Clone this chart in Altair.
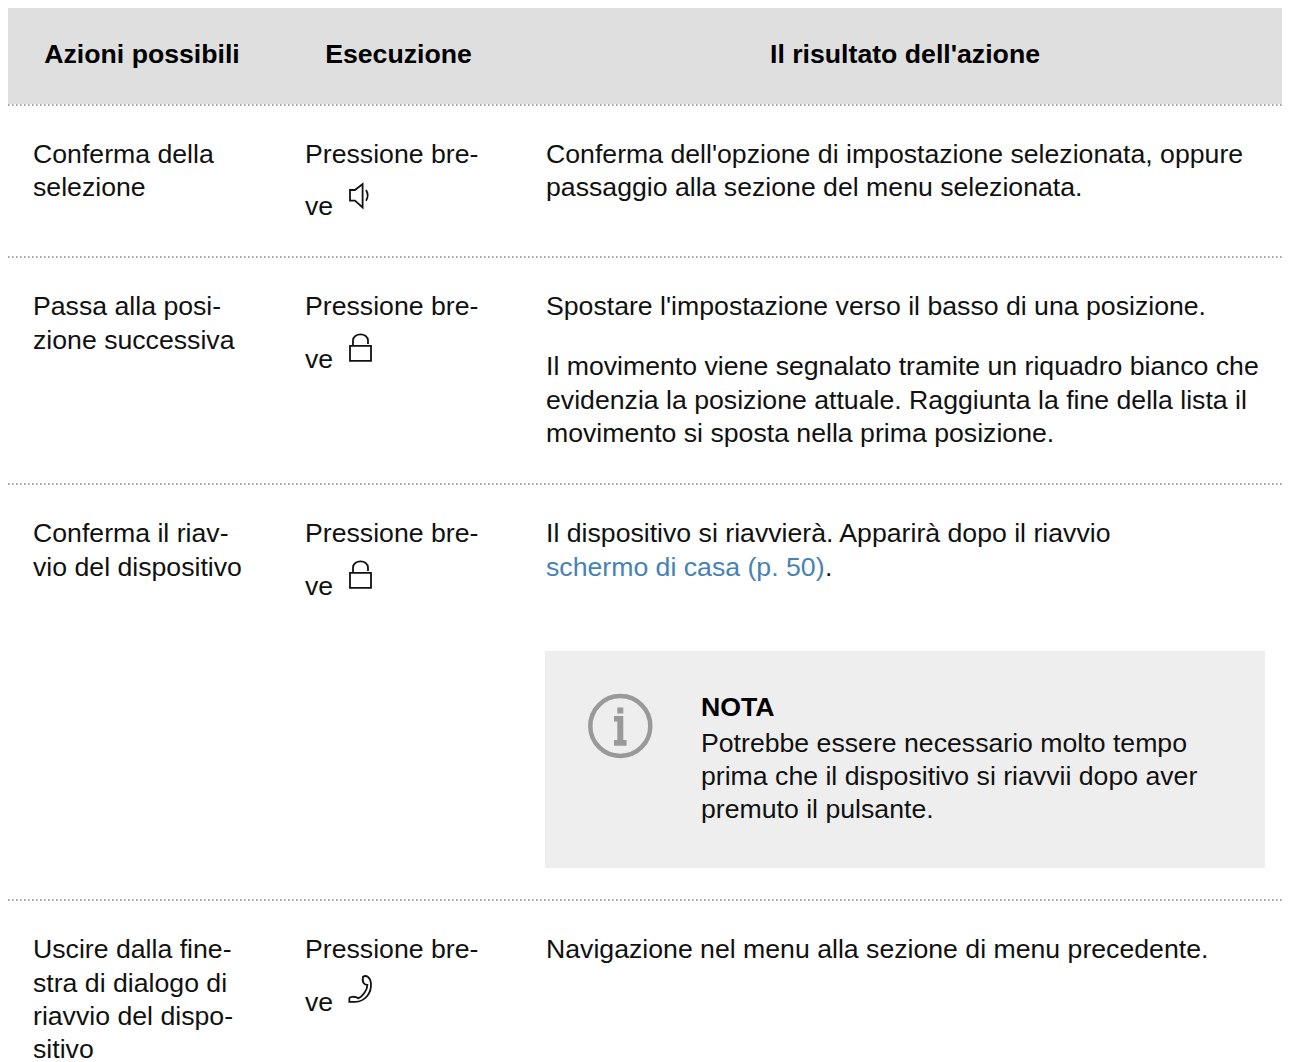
import altair as alt
import pandas as pd

# ---- text content ----
HEADERS = ["Azioni possibili", "Esecuzione", "Il risultato dell'azione"]
ACTIONS = [
    ["Conferma della", "selezione"],
    ["Passa alla posi-", "zione successiva"],
    ["Conferma il riav-", "vio del dispositivo"],
    ["Uscire dalla fine-", "stra di dialogo di", "riavvio del dispo-", "sitivo"],
]
EXECUTION = ["Pressione bre-", "ve"]
RESULTS = [
    ["Conferma dell'opzione di impostazione selezionata, oppure",
     "passaggio alla sezione del menu selezionata."],
    ["Spostare l'impostazione verso il basso di una posizione.",
     "Il movimento viene segnalato tramite un riquadro bianco che",
     "evidenzia la posizione attuale. Raggiunta la fine della lista il",
     "movimento si sposta nella prima posizione."],
    ["Il dispositivo si riavvierà. Apparirà dopo il riavvio"],
    ["Navigazione nel menu alla sezione di menu precedente."],
]
LINK = "schermo di casa (p. 50)"
LINK_END = "."
NOTE_TITLE = "NOTA"
NOTE_LINES = ["Potrebbe essere necessario molto tempo",
              "prima che il dispositivo si riavvii dopo aver",
              "premuto il pulsante."]

# ---- layout ----
W, H = 1274, 1054
FONT = "Liberation Sans"
FS = 26.67
X_SCALE = alt.Scale(domain=[8, 8 + W], range=[0, W])
Y_SCALE = alt.Scale(domain=[8, 8 + H], range=[0, H])
x_q = lambda f: alt.X(f, type="quantitative", scale=X_SCALE, axis=None)
y_q = lambda f: alt.Y(f, type="quantitative", scale=Y_SCALE, axis=None)

ACTION_Y = [[163, 196], [315, 349], [542, 576], [958, 992, 1025, 1058]]
EXEC_Y = [[163, 215], [315, 368], [542, 595], [958, 1011]]
RESULT_Y = [[163, 196], [315, 375, 409, 442], [542], [958]]

rows = []
for lines, ys in zip(ACTIONS, ACTION_Y):
    rows += [{"t": t, "x": 33, "y": y} for t, y in zip(lines, ys)]
for ys in EXEC_Y:
    rows += [{"t": t, "x": 305, "y": y} for t, y in zip(EXECUTION, ys)]
for lines, ys in zip(RESULTS, RESULT_Y):
    rows += [{"t": t, "x": 546, "y": y} for t, y in zip(lines, ys)]
rows.append({"t": LINK_END, "x": 825, "y": 576})
rows += [{"t": t, "x": 701, "y": y} for t, y in zip(NOTE_LINES, [752, 785, 818])]
body_df = pd.DataFrame(rows)

head_df = pd.DataFrame({"t": HEADERS, "x": [142, 398.5, 905], "y": [63, 63, 63]})
bold_df = pd.DataFrame({"t": [NOTE_TITLE], "x": [701], "y": [716]})
link_df = pd.DataFrame({"t": [LINK], "x": [546], "y": [576]})

rect_df = pd.DataFrame({
    "x": [8, 545], "x2": [8 + W, 1265], "y": [8, 651], "y2": [104, 868],
    "c": ["#dfdfdf", "#eeeeee"],
})
rule_df = pd.DataFrame({"x": [8] * 4, "x2": [8 + W] * 4, "y": [105, 257, 484, 900]})

rects = alt.Chart(rect_df).mark_rect(strokeWidth=0).encode(
    x=x_q("x"), x2="x2", y=y_q("y"), y2="y2",
    color=alt.Color("c:N", scale=None))
rules = alt.Chart(rule_df).mark_rule(
    color="#8a8a8a", strokeWidth=1.6, strokeDash=[1.6, 2.4]
).encode(x=x_q("x"), x2="x2", y=y_q("y"))

def text_layer(df, **kw):
    return alt.Chart(df).mark_text(
        font=FONT, fontSize=FS, baseline="alphabetic", **kw
    ).encode(x=x_q("x"), y=y_q("y"), text="t:N")

body = text_layer(body_df, align="left", color="#111111")
head = text_layer(head_df, align="center", color="#000000", fontWeight="bold")
bold = text_layer(bold_df, align="left", color="#000000", fontWeight="bold")
link = text_layer(link_df, align="left", color="#4682b4")

# ---- icons ----
LOCK = ("M-0.7,-0.07 L0.7,-0.07 L0.7,0.93 L-0.7,0.93 Z "
        "M-0.5,-0.07 L-0.5,-0.42 C-0.5,-0.98 0.5,-0.98 0.5,-0.42 L0.5,-0.2")
SPEAKER = ("M-0.6,-0.38 L-0.27,-0.38 L0.24,-0.78 L0.24,0.78 L-0.27,0.33 L-0.6,0.33 Z "
           "M0.47,-0.38 Q0.69,0 0.47,0.33")
PHONE = ("M0.2,-0.84 C0.4,-0.96 0.67,-0.84 0.73,-0.4 C0.78,0.27 0.33,0.82 -0.33,0.84 "
         "L-0.71,0.84 L-0.71,0.6 C-0.71,0.49 -0.33,0.44 -0.11,0.6 "
         "C0.18,0.49 0.49,0.04 0.49,-0.29 C0.33,-0.29 0.11,-0.4 0.2,-0.84 Z")
INFO_I = ("M-0.1,-0.62 L0.1,-0.62 L0.1,-0.42 L-0.1,-0.42 Z "
          "M-0.21,-0.33 L0.1,-0.33 L0.1,0.47 L0.21,0.47 L0.21,0.66 L-0.21,0.66 "
          "L-0.21,0.47 L-0.1,0.47 L-0.1,-0.15 L-0.21,-0.15 Z")

def icon(shape, xs, ys, size=900, **kw):
    df = pd.DataFrame({"x": xs, "y": ys})
    params = dict(shape=shape, size=size, opacity=1, filled=False,
                  strokeWidth=1.8, color="#111111")
    params.update(kw)
    return alt.Chart(df).mark_point(**params).encode(x=x_q("x"), y=y_q("y"))

icons = [
    icon(SPEAKER, [359], [195.7]),
    icon(LOCK, [360.5, 360.5], [347, 574]),
    icon(PHONE, [360], [989.3]),
    icon("circle", [620.3], [726], size=3600, strokeWidth=4.5, color="#999999"),
    icon(INFO_I, [620.3], [726], size=3600, filled=True, strokeWidth=0, color="#999999"),
]

chart = alt.layer(rects, rules, body, head, bold, link, *icons).properties(
    width=W, height=H, padding=0,
    autosize=alt.AutoSizeParams(type="none"),
).configure_view(stroke=None)

chart.save("out.html", embed_options={"renderer": "svg", "actions": False})
